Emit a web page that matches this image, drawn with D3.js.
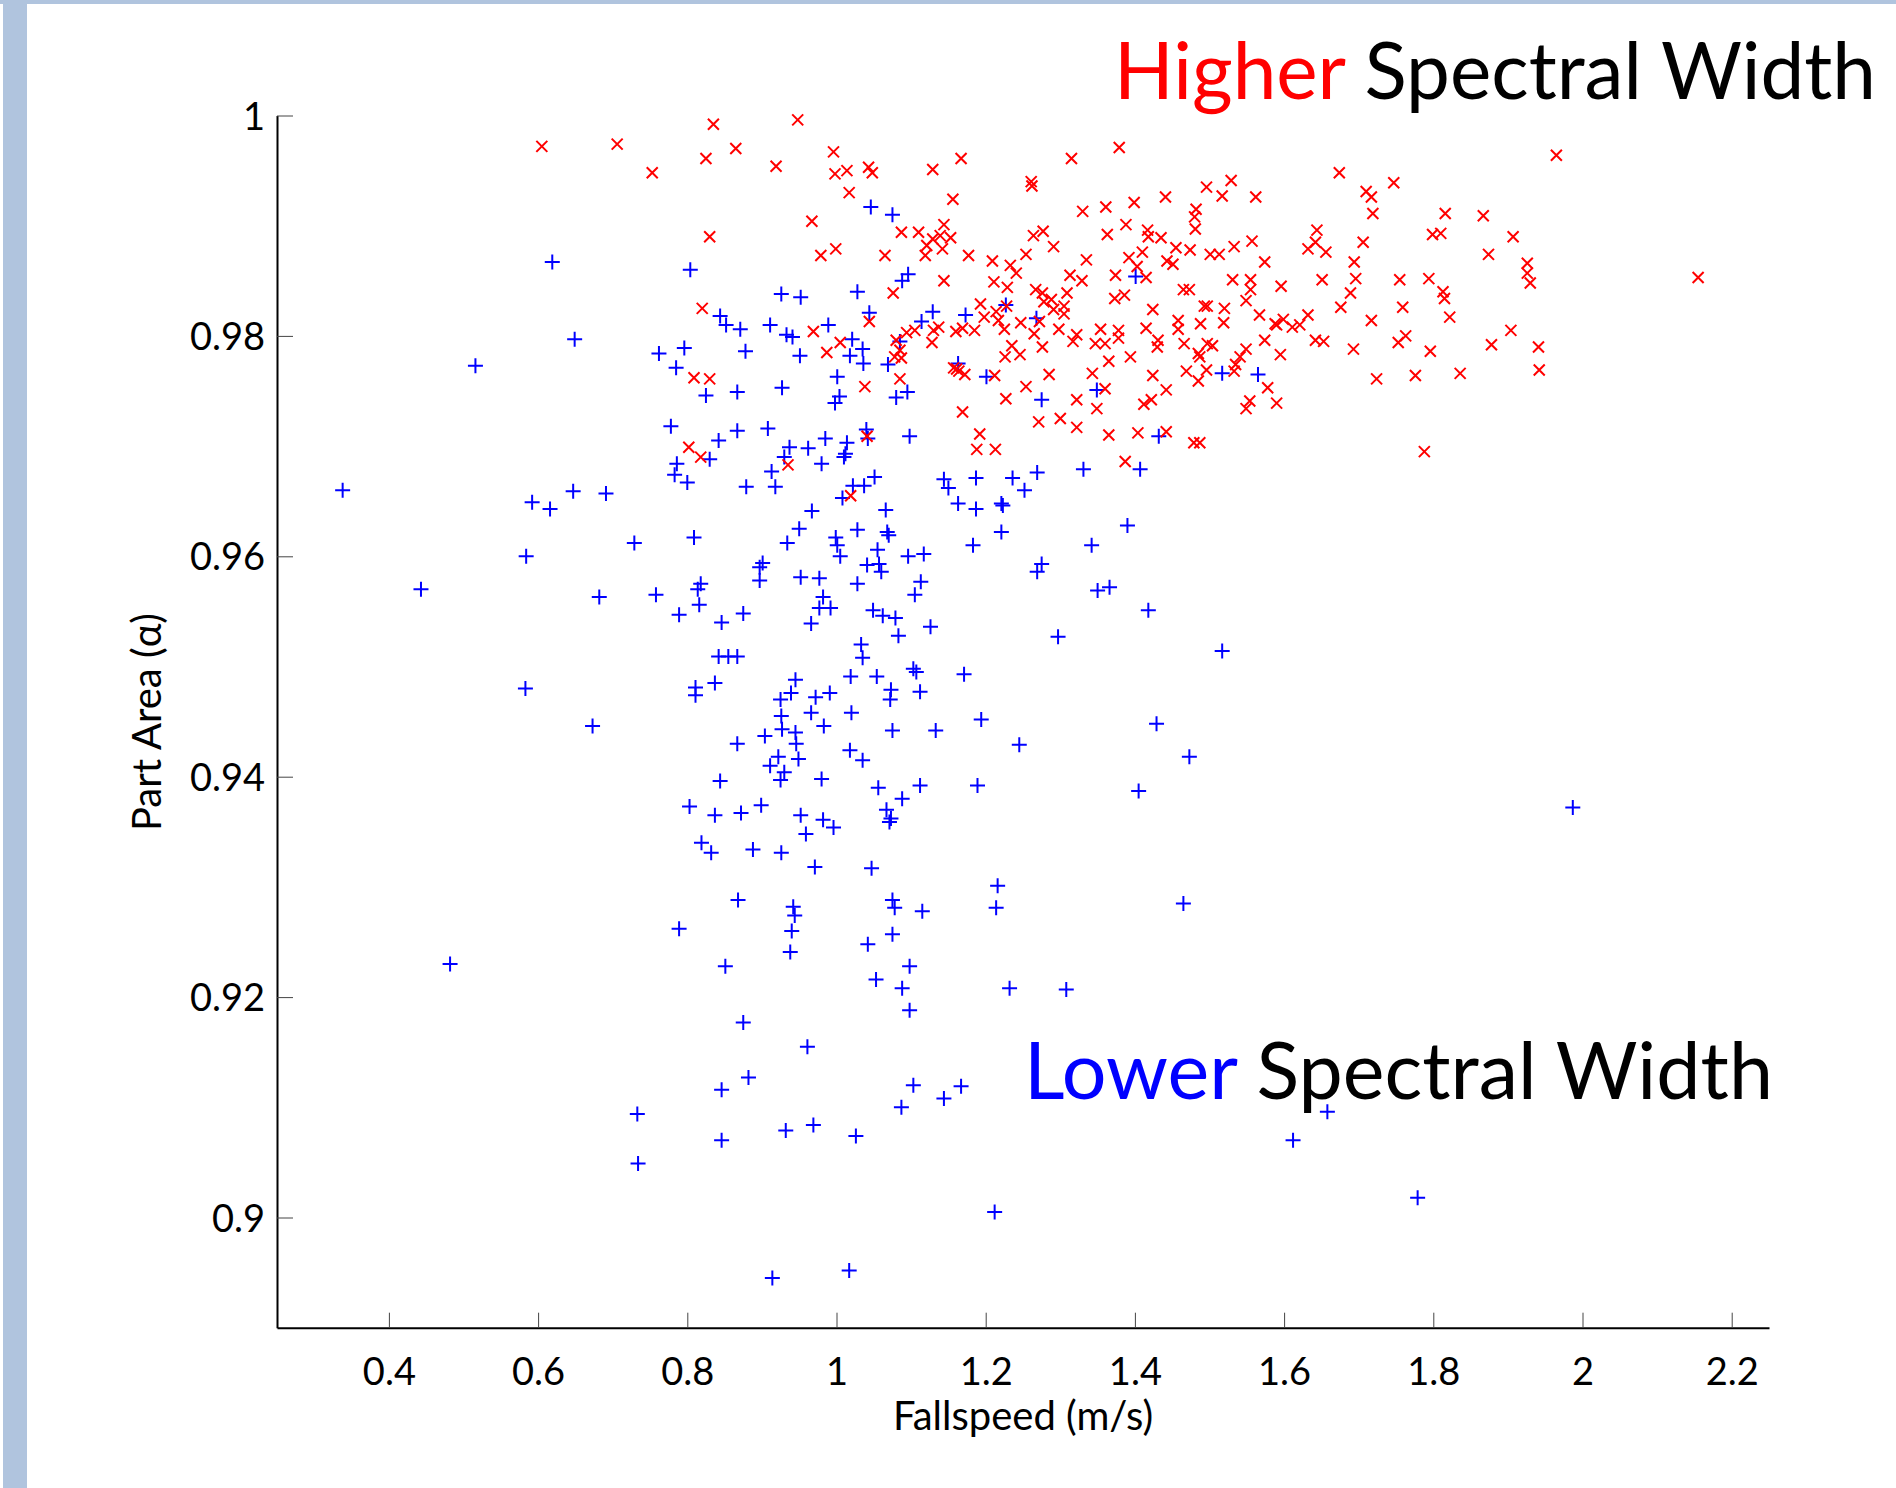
<!DOCTYPE html>
<html>
<head>
<meta charset="utf-8">
<script src="https://d3js.org/d3.v7.min.js"></script>
<style>
  body { margin: 0; background: #fff; }
  #chart { display: block; background: #fff; }
  .axis path { stroke: #000; stroke-width: 2px; }
  .axis line { stroke: #444; stroke-width: 1px; }
  .axis text { font-family: Lato, sans-serif; font-size: 38px; fill: #000; }
  .label { font-family: Lato, sans-serif; font-size: 40px; fill: #000; }
  .note { font-family: Lato, sans-serif; font-size: 80px; fill: #000; }
</style>
</head>
<body>
<svg id="chart"></svg>
<script>
// [fallspeed (m/s), part area alpha]
var higherWidth = [
  [0.605,0.9972],[0.706,0.9974],[0.835,0.9992],[0.948,0.9996],[0.825,0.9961],[0.865,0.9970],[0.753,0.9948],[0.919,0.9954],
  [0.996,0.9967],[0.998,0.9947],[1.014,0.9950],[1.043,0.9953],[1.048,0.9948],[1.129,0.9951],[1.167,0.9961],
  [1.017,0.9930],[1.156,0.9924],[0.967,0.9904],[0.830,0.9890],[1.087,0.9894],[1.110,0.9894],[1.144,0.9901],[1.129,0.9888],
  [1.139,0.9891],[1.153,0.9889],[1.121,0.9882],[1.142,0.9879],[1.119,0.9873],[0.979,0.9873],[0.999,0.9879],[1.065,0.9873],
  [1.177,0.9873],[1.209,0.9868],[1.233,0.9864],[1.241,0.9857],[1.254,0.9874],[1.144,0.9850],[1.076,0.9839],[1.211,0.9849],
  [1.229,0.9844],[0.820,0.9825],[1.193,0.9829],[1.214,0.9822],[1.228,0.9827],[1.198,0.9817],[1.217,0.9814],[1.247,0.9812],
  [1.044,0.9813],[0.969,0.9804],[1.094,0.9803],[1.105,0.9805],[1.130,0.9805],[1.137,0.9808],[1.160,0.9804],[1.169,0.9807],
  [1.185,0.9805],[1.225,0.9806],[1.005,0.9794],[1.080,0.9796],[1.128,0.9794],[0.987,0.9785],[1.085,0.9787],[1.078,0.9781],
  [1.087,0.9780],[1.235,0.9791],[1.226,0.9781],[1.246,0.9783],[1.157,0.9771],[1.164,0.9768],[1.172,0.9765],[1.161,0.9770],
  [1.212,0.9764],[0.809,0.9762],[0.830,0.9761],[1.085,0.9761],[1.038,0.9754],[1.254,0.9754],[1.227,0.9743],[1.169,0.9731],
  [1.041,0.9709],[1.192,0.9711],[0.802,0.9699],[0.818,0.9690],[0.935,0.9683],[1.188,0.9697],[1.213,0.9697],[1.019,0.9655],
  [1.379,0.9971],[1.315,0.9961],[1.965,0.9964],[1.674,0.9948],[1.747,0.9939],[1.710,0.9931],[1.717,0.9926],[1.719,0.9911],
  [1.816,0.9911],[1.867,0.9909],[1.496,0.9935],[1.529,0.9941],[1.517,0.9927],[1.562,0.9926],[1.441,0.9926],[1.399,0.9921],
  [1.330,0.9913],[1.361,0.9917],[1.482,0.9915],[1.480,0.9908],[1.481,0.9897],[1.388,0.9901],[1.363,0.9892],[1.417,0.9896],
  [1.418,0.9890],[1.435,0.9889],[1.277,0.9895],[1.264,0.9891],[1.261,0.9940],[1.262,0.9936],
  [1.291,0.9881],[1.335,0.9869],[1.392,0.9871],[1.410,0.9876],[1.403,0.9863],[1.443,0.9868],[1.451,0.9865],[1.455,0.9880],
  [1.474,0.9878],[1.501,0.9874],[1.513,0.9874],[1.533,0.9881],[1.557,0.9886],[1.574,0.9867],[1.644,0.9896],[1.642,0.9885],
  [1.632,0.9879],[1.656,0.9876],[1.706,0.9885],[1.694,0.9867],[1.799,0.9892],[1.810,0.9893],[1.907,0.9890],[1.874,0.9874],
  [1.926,0.9866],[1.926,0.9857],[1.930,0.9848],[2.155,0.9853],[1.313,0.9855],[1.329,0.9850],[1.374,0.9855],[1.415,0.9853],
  [1.267,0.9842],[1.276,0.9839],[1.288,0.9833],[1.309,0.9839],[1.278,0.9831],[1.291,0.9824],[1.305,0.9827],[1.305,0.9820],
  [1.272,0.9813],[1.373,0.9834],[1.386,0.9837],[1.424,0.9824],[1.465,0.9842],[1.473,0.9842],[1.493,0.9827],[1.497,0.9827],
  [1.520,0.9825],[1.531,0.9851],[1.555,0.9851],[1.555,0.9842],[1.596,0.9845],[1.549,0.9832],[1.651,0.9851],[1.696,0.9852],
  [1.755,0.9851],[1.794,0.9852],[1.689,0.9839],[1.676,0.9826],[1.759,0.9826],[1.813,0.9840],[1.815,0.9834],[1.822,0.9817],
  [1.567,0.9819],[1.588,0.9811],[1.599,0.9815],[1.590,0.9810],[1.611,0.9808],[1.621,0.9810],[1.632,0.9819],[1.717,0.9814],
  [1.458,0.9814],[1.458,0.9806],[1.488,0.9811],[1.519,0.9812],[1.415,0.9807],[1.378,0.9805],[1.354,0.9806],[1.298,0.9806],
  [1.265,0.9802],[1.322,0.9801],[1.317,0.9795],[1.276,0.9790],[1.347,0.9793],[1.360,0.9793],[1.378,0.9798],[1.431,0.9796],
  [1.430,0.9790],[1.466,0.9793],[1.497,0.9793],[1.504,0.9791],[1.549,0.9788],[1.574,0.9796],[1.642,0.9796],[1.653,0.9795],
  [1.693,0.9788],[1.753,0.9794],[1.763,0.9800],[1.904,0.9805],[1.878,0.9792],[1.941,0.9790],[1.796,0.9786],
  [1.394,0.9781],[1.365,0.9777],[1.485,0.9784],[1.487,0.9781],[1.541,0.9781],[1.535,0.9774],[1.533,0.9768],[1.595,0.9783],
  [1.285,0.9765],[1.343,0.9766],[1.424,0.9764],[1.469,0.9768],[1.496,0.9769],[1.485,0.9759],[1.578,0.9753],[1.442,0.9751],
  [1.360,0.9752],[1.724,0.9761],[1.776,0.9764],[1.836,0.9766],[1.942,0.9769],
  [1.322,0.9742],[1.349,0.9734],[1.412,0.9738],[1.422,0.9742],[1.554,0.9741],[1.549,0.9734],[1.590,0.9739],[1.271,0.9722],
  [1.300,0.9725],[1.322,0.9717],[1.365,0.9710],[1.404,0.9712],[1.442,0.9713],[1.479,0.9703],[1.487,0.9703],[1.387,0.9686],
  [1.788,0.9695]
];

var lowerWidth = [
  [1.046,0.9917],[1.075,0.9910],[0.619,0.9867],[0.804,0.9860],[1.096,0.9856],[1.088,0.9850],[0.926,0.9838],[0.952,0.9835],
  [1.028,0.9840],[0.844,0.9818],[0.852,0.9810],[0.871,0.9806],[0.911,0.9810],[0.933,0.9801],[0.941,0.9799],[0.989,0.9810],
  [1.044,0.9821],[1.129,0.9822],[1.173,0.9819],[1.227,0.9828],[1.114,0.9813],
  [0.649,0.9797],[0.762,0.9784],[0.796,0.9789],[0.878,0.9786],[0.951,0.9782],[1.021,0.9797],[1.035,0.9788],[1.018,0.9782],
  [1.036,0.9775],[1.085,0.9795],[1.069,0.9774],[0.516,0.9773],[0.785,0.9771],[1.163,0.9775],[1.201,0.9763],[1.001,0.9763],
  [0.927,0.9753],[0.825,0.9746],[0.867,0.9749],[1.004,0.9745],[0.998,0.9739],[1.080,0.9744],[1.095,0.9749],
  [0.778,0.9718],[0.867,0.9714],[0.908,0.9716],[0.842,0.9705],[0.985,0.9707],[1.040,0.9715],[1.042,0.9707],[1.098,0.9709],
  [0.937,0.9699],[0.962,0.9698],[1.014,0.9703],[1.012,0.9693],[1.010,0.9690],[0.830,0.9688],[0.930,0.9690],[0.786,0.9684],
  [0.980,0.9684],[0.783,0.9674],[0.800,0.9667],[0.913,0.9677],[0.879,0.9663],[0.918,0.9663],[1.022,0.9664],[1.037,0.9664],
  [1.051,0.9672],[1.144,0.9670],[1.150,0.9662],[1.187,0.9671],[1.236,0.9671],[1.252,0.9660],
  [0.338,0.9660],[0.592,0.9649],[0.616,0.9643],[0.647,0.9659],[0.691,0.9657],[1.008,0.9653],[1.163,0.9648],[1.187,0.9643],
  [1.221,0.9648],[1.223,0.9646],[0.967,0.9641],[1.066,0.9642],[0.950,0.9625],[1.028,0.9624],[1.068,0.9622],[1.070,0.9619],
  [1.221,0.9622],[0.729,0.9612],[0.809,0.9617],[0.934,0.9612],[0.999,0.9617],[1.001,0.9610],[1.183,0.9610],[1.055,0.9606],
  [0.584,0.9600],[1.005,0.9600],[1.096,0.9600],[1.117,0.9602],
  [0.901,0.9594],[0.897,0.9590],[1.041,0.9592],[1.057,0.9593],[1.060,0.9586],[0.897,0.9578],[0.952,0.9581],[0.977,0.9580],
  [1.028,0.9575],[1.113,0.9577],[1.105,0.9565],[0.443,0.9570],[0.682,0.9563],[0.758,0.9565],[0.818,0.9575],[0.814,0.9570],
  [0.816,0.9556],[0.789,0.9547],[0.846,0.9540],[0.875,0.9548],[0.982,0.9563],[0.977,0.9553],[0.992,0.9553],[0.966,0.9539],
  [1.049,0.9551],[1.062,0.9546],[1.079,0.9544],[1.126,0.9536],[1.083,0.9528],[1.033,0.9520],[1.035,0.9508],[0.842,0.9509],
  [0.855,0.9509],[0.867,0.9509],[1.103,0.9498],[1.107,0.9495],[1.171,0.9493],[0.945,0.9488],[1.019,0.9491],[1.054,0.9491],
  [0.583,0.9480],[0.811,0.9481],[0.811,0.9474],[0.837,0.9485],[0.939,0.9476],[0.925,0.9470],[0.972,0.9472],[0.991,0.9476],
  [1.073,0.9479],[1.072,0.9470],[1.112,0.9477],[0.926,0.9455],[0.966,0.9458],[1.020,0.9458],[1.194,0.9452],[0.673,0.9446],
  [0.927,0.9443],[0.945,0.9440],[0.983,0.9446],[1.075,0.9442],[1.133,0.9442],[0.867,0.9430],[0.904,0.9437],[0.946,0.9430],
  [1.245,0.9429],[1.018,0.9424],[1.035,0.9415],[0.922,0.9418],[0.949,0.9416],[0.911,0.9410],[0.930,0.9404],[0.925,0.9397],
  [0.844,0.9396],[0.980,0.9398],[1.056,0.9390],[1.112,0.9392],[1.189,0.9392],[1.088,0.9380],
  [0.803,0.9373],[0.837,0.9365],[0.872,0.9367],[0.899,0.9374],[0.952,0.9365],[0.982,0.9361],[0.996,0.9354],[1.067,0.9370],
  [1.073,0.9362],[1.071,0.9359],[0.959,0.9348],[0.819,0.9340],[0.832,0.9331],[0.888,0.9334],[0.926,0.9331],[0.971,0.9318],
  [1.047,0.9317],[1.216,0.9301],[0.868,0.9288],[0.942,0.9282],[0.944,0.9274],[1.075,0.9288],[1.078,0.9281],[1.115,0.9278],
  [1.214,0.9281],[0.789,0.9262],[0.940,0.9260],[1.075,0.9257],[1.042,0.9248],[0.938,0.9241],[0.482,0.9230],[0.851,0.9228],
  [1.098,0.9228],[1.053,0.9216],[1.088,0.9208],[1.232,0.9208],
  [1.098,0.9188],[0.875,0.9177],[0.961,0.9155],[0.882,0.9127],[0.846,0.9116],[1.103,0.9120],[1.167,0.9119],[1.144,0.9108],
  [1.087,0.9100],[0.733,0.9094],[0.846,0.9070],[0.932,0.9079],[0.969,0.9084],[1.026,0.9074],[0.734,0.9049],[1.212,0.9005],
  [0.914,0.8945],[1.017,0.8952],
  [1.401,0.9854],[1.268,0.9816],[1.517,0.9766],[1.565,0.9765],[1.349,0.9751],[1.275,0.9742],[1.432,0.9709],[1.269,0.9676],
  [1.331,0.9679],[1.407,0.9679],[1.390,0.9628],[1.342,0.9610],
  [1.275,0.9593],[1.269,0.9586],[1.350,0.9569],[1.366,0.9572],[1.418,0.9551],[1.297,0.9527],[1.517,0.9514],[1.429,0.9448],
  [1.473,0.9418],[1.405,0.9387],[1.987,0.9372],[1.465,0.9285],[1.308,0.9207],
  [1.658,0.9096],[1.612,0.9070],[1.779,0.9018]
];

var xTicks = [0.4, 0.6, 0.8, 1, 1.2, 1.4, 1.6, 1.8, 2, 2.2];
var xTickLabels = ['0.4', '0.6', '0.8', '1', '1.2', '1.4', '1.6', '1.8', '2', '2.2'];
var yTicks = [0.9, 0.92, 0.94, 0.96, 0.98, 1];
var yTickLabels = ['0.9', '0.92', '0.94', '0.96', '0.98', '1'];

var W = 1896, H = 1488;
var svg = d3.select('#chart').attr('width', W).attr('height', H);

// slide frame
svg.append('rect').attr('x', 0).attr('y', 0).attr('width', W).attr('height', 4).attr('fill', '#b0c4de');
svg.append('rect').attr('x', 3).attr('y', 0).attr('width', 24).attr('height', H).attr('fill', '#b0c4de');

var x = d3.scaleLinear().domain([0.25, 2.25]).range([277, 1769]);
var y = d3.scaleLinear().domain([0.89, 1]).range([1327.7, 115.5]);

var xAxis = d3.axisBottom(x)
  .tickValues(xTicks)
  .tickFormat((d, i) => xTickLabels[i])
  .tickSizeInner(-15)
  .tickSizeOuter(0);

var yAxis = d3.axisLeft(y)
  .tickValues(yTicks)
  .tickFormat((d, i) => yTickLabels[i])
  .tickSizeInner(-16)
  .tickSizeOuter(0);

var gx = svg.append('g')
  .attr('class', 'axis x')
  .attr('transform', `translate(0, ${ y.range()[0] })`)
  .call(xAxis);
gx.selectAll('text').attr('y', 57).attr('dy', 0);

var gy = svg.append('g')
  .attr('class', 'axis y')
  .attr('transform', `translate(${ x.range()[0] }, 0)`)
  .call(yAxis);
gy.selectAll('text').attr('x', -12).attr('dy', '0.36em');

// markers
svg.append('g').selectAll('path')
  .data(lowerWidth)
  .enter().append('path')
    .attr('transform', d => `translate(${ x(d[0]) }, ${ y(d[1]) })`)
    .attr('d', 'M-7.5,0H7.5M0,-7.5V7.5')
    .attr('stroke', '#0000ff')
    .attr('stroke-width', 2)
    .attr('fill', 'none');

svg.append('g').selectAll('path')
  .data(higherWidth)
  .enter().append('path')
    .attr('transform', d => `translate(${ x(d[0]) }, ${ y(d[1]) })`)
    .attr('d', 'M-5.5,-5.5L5.5,5.5M-5.5,5.5L5.5,-5.5')
    .attr('stroke', '#ff0000')
    .attr('stroke-width', 2)
    .attr('fill', 'none');

// axis titles
svg.append('text')
  .attr('class', 'label')
  .attr('x', 1023)
  .attr('y', 1430)
  .attr('text-anchor', 'middle')
  .text('Fallspeed (m/s)');

svg.append('text')
  .attr('class', 'label')
  .attr('transform', 'translate(161, 722) rotate(-90)')
  .attr('text-anchor', 'middle')
  .text('Part Area (α)');

// annotations
var hi = svg.append('text')
  .attr('class', 'note')
  .attr('x', 1114)
  .attr('y', 99)
  .attr('textLength', 762)
  .attr('lengthAdjust', 'spacingAndGlyphs');
hi.append('tspan').attr('fill', '#ff0000').text('Higher');
hi.append('tspan').text(' Spectral Width');

var lo = svg.append('text')
  .attr('class', 'note')
  .attr('x', 1024)
  .attr('y', 1099)
  .attr('textLength', 749)
  .attr('lengthAdjust', 'spacingAndGlyphs');
lo.append('tspan').attr('fill', '#0000ff').text('Lower');
lo.append('tspan').text(' Spectral Width');
</script>
</body>
</html>
